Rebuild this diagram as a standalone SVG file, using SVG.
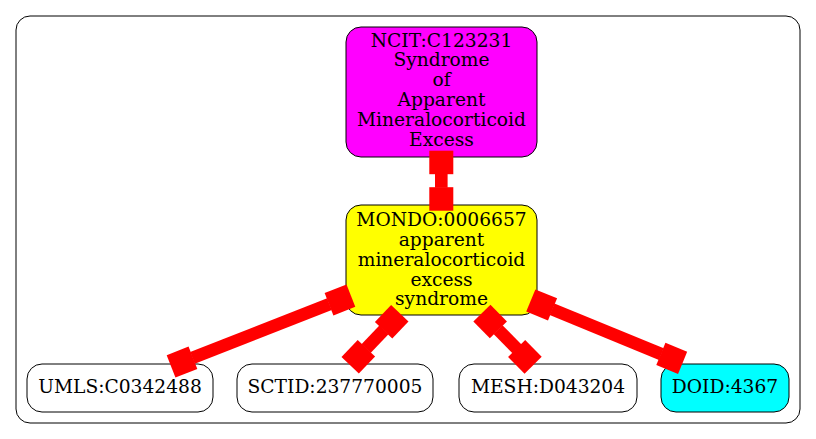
<svg xmlns="http://www.w3.org/2000/svg" width="816" height="439" viewBox="0 0 816 439">
<style>
.n{stroke:#000;stroke-width:1}
.t{font-family:"DejaVu Serif","Liberation Serif",serif;font-size:18.67px;text-anchor:middle;fill:#000}
.e{fill:#ff0000}
</style>
<rect width="816" height="439" fill="#fff"/>
<rect id="cluster" x="16" y="16" width="784" height="407" rx="14" ry="14" fill="none" stroke="#000" stroke-width="1"/>
<g id="ncit">
<rect class="n" x="346" y="27" width="191" height="130" rx="15" ry="15" fill="#ff00ff"/>
<text class="t" x="441.5" y="46.5">NCIT:C123231</text>
<text class="t" x="441.5" y="66.4">Syndrome</text>
<text class="t" x="441.5" y="86.2">of</text>
<text class="t" x="441.5" y="106.1">Apparent</text>
<text class="t" x="441.5" y="125.9">Mineralocorticoid</text>
<text class="t" x="441.5" y="145.8">Excess</text>
</g>
<g id="mondo">
<rect class="n" x="346" y="205" width="191" height="110" rx="15" ry="15" fill="#ffff00"/>
<text class="t" x="441.5" y="226">MONDO:0006657</text>
<text class="t" x="441.5" y="245.9">apparent</text>
<text class="t" x="441.5" y="265.7">mineralocorticoid</text>
<text class="t" x="441.5" y="285.6">excess</text>
<text class="t" x="441.5" y="305.4">syndrome</text>
</g>
<g id="umls">
<rect class="n" x="27" y="364" width="186" height="48" rx="15" ry="15" fill="#fff"/>
<text class="t" x="120" y="393">UMLS:C0342488</text>
</g>
<g id="sctid">
<rect class="n" x="237" y="364" width="196" height="48" rx="15" ry="15" fill="#fff"/>
<text class="t" x="335" y="393">SCTID:237770005</text>
</g>
<g id="mesh">
<rect class="n" x="459" y="364" width="178" height="48" rx="15" ry="15" fill="#fff"/>
<text class="t" x="548" y="393">MESH:D043204</text>
</g>
<g id="doid">
<rect class="n" x="661" y="364" width="128" height="48" rx="15" ry="15" fill="#00ffff"/>
<text class="t" x="725" y="393">DOID:4367</text>
</g>
<g id="edges" class="e">
<g transform="translate(441.3,150.7) rotate(90)">
<rect x="0" y="-12" width="23.5" height="24"/><rect x="23" y="-6.3" width="14" height="12.6"/><rect x="36.5" y="-12" width="23.5" height="24"/>
</g>
<g transform="translate(350.9,295.7) rotate(158.56)">
<rect x="0" y="-12" width="23.5" height="24"/><rect x="23" y="-6.3" width="147.2" height="12.6"/><rect x="169.7" y="-12" width="23.5" height="24"/>
</g>
<g transform="translate(399.8,313.2) rotate(133.65)">
<rect x="0" y="-12" width="23.5" height="24"/><rect x="23" y="-6.3" width="25.9" height="12.6"/><rect x="48.4" y="-12" width="23.5" height="24"/>
</g>
<g transform="translate(481.9,313.2) rotate(45.44)">
<rect x="0" y="-12" width="23.5" height="24"/><rect x="23" y="-6.3" width="27" height="12.6"/><rect x="49.5" y="-12" width="23.5" height="24"/>
</g>
<g transform="translate(530.8,300.5) rotate(22.31)">
<rect x="0" y="-12" width="23.5" height="24"/><rect x="23" y="-6.3" width="118.1" height="12.6"/><rect x="140.6" y="-12" width="23.5" height="24"/>
</g>
</g>
</svg>
